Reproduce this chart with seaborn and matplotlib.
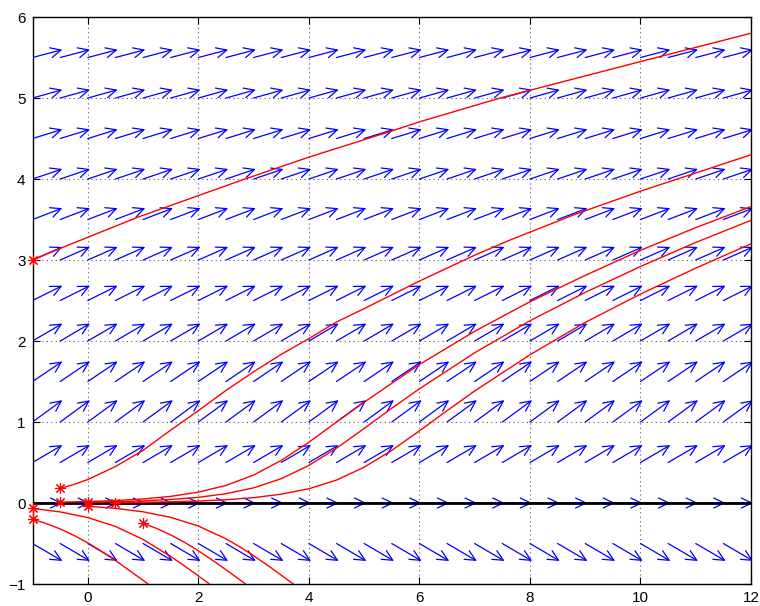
import numpy as np
import pandas as pd
import matplotlib
matplotlib.use("Agg")
import matplotlib.pyplot as plt
import seaborn as sns
from matplotlib.patches import FancyArrowPatch

# direction field: one slope per row of arrows
row_y = [-0.5, 0.0, 0.5, 1.0, 1.5, 2.0, 2.5, 3.0, 3.5, 4.0, 4.5, 5.0, 5.5]
row_slope = [-0.40, 0.0, 0.40, 0.50, 0.46, 0.40, 0.34, 0.30, 0.26, 0.23, 0.21, 0.19, 0.18]
col_x = np.arange(-1, 12, 0.5)
arrow_dx = 0.54

# solution curves (t, y)
u0_t = [-1, -0.44, 0.91, 2.8, 4.0, 5.53, 6.02, 7.46, 10.0, 12.0]
u0_y = [3.0, 3.16, 3.53, 3.99, 4.27, 4.60, 4.71, 5.0, 5.45, 5.80]

u1_t = [-0.5, -0.25, 0, 0.5, 1.0, 1.5, 2.0, 2.5, 3.0, 3.5, 4.0, 4.5, 5.0, 6.0, 7.0, 7.65, 8.8, 10.0, 12.0]
u1_y = [0.18, 0.23, 0.29, 0.45, 0.65, 0.90, 1.14, 1.39, 1.62, 1.835, 2.03, 2.235, 2.40, 2.74, 3.06, 3.25, 3.56, 3.85, 4.30]

u2_t = [-0.5, 0, 0.5, 1.0, 1.5, 2.0, 2.5, 3.0, 3.5, 4.0, 4.5, 5.0, 6.0, 7.0, 8.0, 9.0, 10.0, 11.0, 12.0]
u2_y = [0.011, 0.018, 0.030, 0.050, 0.082, 0.134, 0.217, 0.345, 0.526, 0.75, 1.0, 1.245, 1.71, 2.12, 2.485, 2.81, 3.12, 3.40, 3.66]

u3_t = [0, 0.5, 1.0, 1.5, 2.0, 2.5, 3.0, 3.5, 4.0, 4.5, 5.0, 5.5, 6.0, 7.0, 8.0, 9.0, 10.0, 11.0, 12.0]
u3_y = [0.0095, 0.0156, 0.026, 0.043, 0.070, 0.115, 0.187, 0.30, 0.464, 0.677, 0.92, 1.17, 1.41, 1.855, 2.25, 2.60, 2.92, 3.217, 3.49]

u4_t = [0.5, 1.0, 1.5, 2.0, 2.5, 3.0, 3.5, 4.0, 4.5, 5.0, 5.5, 6.0, 6.5, 7.0, 8.0, 9.0, 10.0, 11.0, 12.0]
u4_y = [0.0054, 0.0089, 0.0147, 0.024, 0.040, 0.066, 0.109, 0.176, 0.283, 0.442, 0.65, 0.89, 1.14, 1.383, 1.83, 2.23, 2.58, 2.90, 3.20]

l1_t = [-1, -0.75, -0.5, -0.25, 0, 0.25, 0.5, 0.75, 1.0, 1.09]
l1_y = [-0.2, -0.254, -0.32, -0.40, -0.492, -0.597, -0.71, -0.832, -0.955, -1.0]

l2_t = [-1, -0.5, 0, 0.5, 1.0, 1.5, 1.75, 2.0, 2.2]
l2_y = [-0.067, -0.110, -0.18, -0.289, -0.45, -0.66, -0.777, -0.90, -1.0]

l3_t = [1.0, 1.25, 1.5, 1.75, 2.0, 2.25, 2.5, 2.855]
l3_y = [-0.25, -0.315, -0.394, -0.485, -0.59, -0.704, -0.824, -1.0]

l4_t = [0, 0.5, 1.0, 1.5, 2.0, 2.5, 2.75, 3.0, 3.25, 3.5, 3.72]
l4_y = [-0.04, -0.066, -0.109, -0.177, -0.284, -0.442, -0.541, -0.651, -0.768, -0.891, -1.0]

curves = {"u0": (u0_t, u0_y), "u1": (u1_t, u1_y), "u2": (u2_t, u2_y),
          "u3": (u3_t, u3_y), "u4": (u4_t, u4_y), "l1": (l1_t, l1_y),
          "l2": (l2_t, l2_y), "l3": (l3_t, l3_y), "l4": (l4_t, l4_y)}

df = pd.concat([pd.DataFrame({"t": t, "y": y, "curve": name})
                for name, (t, y) in curves.items()], ignore_index=True)
starts = df.groupby("curve", sort=False).first()

sns.set_style("ticks")
plt.rcParams["font.family"] = ["Liberation Sans", "DejaVu Sans"]

fig = plt.figure(figsize=(7.6, 6.06), dpi=100)
ax = fig.add_axes([0.0428, 0.0363, 0.9454, 0.9356])

for yy, s in zip(row_y, row_slope):
    for xx in col_x:
        ax.add_patch(FancyArrowPatch((xx, yy), (xx + arrow_dx, yy + arrow_dx * s),
                                     arrowstyle="->,head_length=0.75,head_width=0.36",
                                     mutation_scale=10, color="#0000ff", lw=0.9,
                                     shrinkA=0, shrinkB=0))

ax.axhline(0, color="k", lw=2, zorder=3)

sns.lineplot(data=df, x="t", y="y", units="curve", estimator=None, sort=False,
             color="red", lw=1, ax=ax, legend=False, zorder=4)
ax.plot(starts["t"], starts["y"], ls="none", marker=(8, 2, 0), ms=8,
        color="red", mew=0.8, zorder=5, clip_on=False)

ax.set_xlim(-1, 12)
ax.set_ylim(-1, 6)
ax.set_xticks([0, 2, 4, 6, 8, 10, 12])
ax.set_yticks([-1, 0, 1, 2, 3, 4, 5, 6])
ax.set_xlabel("")
ax.set_ylabel("")
ax.grid(True, color="0.35", ls=(0, (1, 3)), lw=0.8)
ax.tick_params(direction="in", top=True, right=True, length=5, width=0.8,
               labelsize=11, pad=5, colors="k")
for sp in ax.spines.values():
    sp.set_color("k")
    sp.set_linewidth(1)
    sp.set_visible(True)

fig.savefig("out.png", dpi=100)
